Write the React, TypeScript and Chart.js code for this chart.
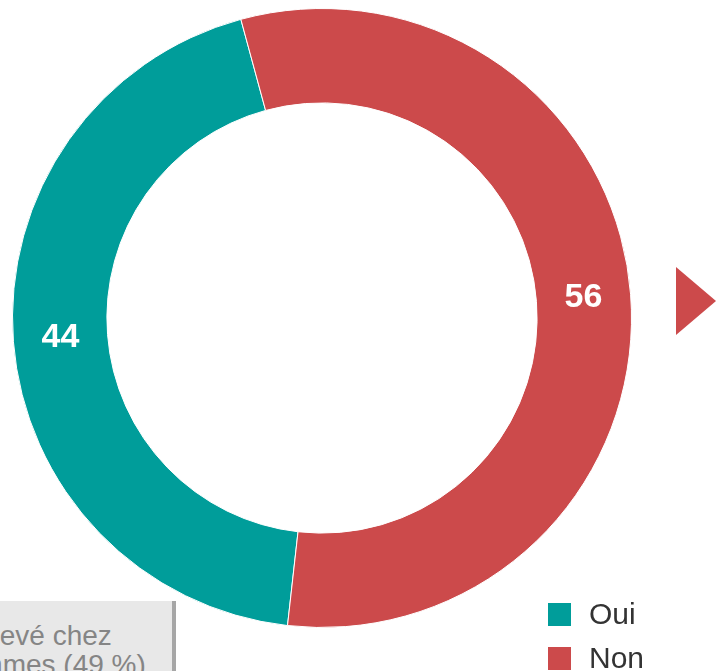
import React, { useEffect, useRef } from "react";
import { Chart, registerables } from "chart.js";

Chart.register(...registerables);

const categories = ["Oui", "Non"];
const values = [44, 56];
const colors = ["#009d9a", "#cc4a4b"];
const noteLines = ["élevé chez", "femmes (49 %)"];

const labelPlugin = {
  id: "arcLabels",
  afterDatasetsDraw(chart: any) {
    const ctx = chart.ctx;
    const meta = chart.getDatasetMeta(0);
    ctx.save();
    ctx.fillStyle = "#ffffff";
    ctx.font = "bold 34px 'Liberation Sans', Arial, sans-serif";
    ctx.textAlign = "center";
    ctx.textBaseline = "middle";
    meta.data.forEach((arc: any, i: number) => {
      const p = arc.getCenterPoint();
      ctx.fillText(String(values[i]), p.x, p.y);
    });
    ctx.restore();
  },
};

export default function App() {
  const ref = useRef<HTMLCanvasElement>(null);
  useEffect(() => {
    if (!ref.current) return;
    const chart = new Chart(ref.current, {
      type: "doughnut",
      data: {
        labels: categories,
        datasets: [
          {
            data: values,
            backgroundColor: colors,
            borderColor: "#ffffff",
            borderWidth: 1,
          },
        ],
      },
      options: {
        animation: false,
        responsive: false,
        cutout: "69.5%",
        rotation: 186.4,
        layout: { padding: { left: 12, top: 8, right: 84, bottom: 43 } },
        plugins: { legend: { display: false }, tooltip: { enabled: false } },
      },
      plugins: [labelPlugin],
    });
    return () => chart.destroy();
  }, []);

  const font = "'Liberation Sans', Arial, sans-serif";
  return (
    <div
      style={{
        position: "absolute",
        left: 0,
        top: 0,
        width: 716,
        height: 671,
        overflow: "hidden",
        background: "#ffffff",
        fontFamily: font,
      }}
    >
      <canvas
        ref={ref}
        width={716}
        height={671}
        style={{ position: "absolute", left: 0, top: 0, width: 716, height: 671 }}
      />
      <div
        style={{
          position: "absolute",
          left: 676,
          top: 267,
          width: 0,
          height: 0,
          borderLeft: "40px solid #cc4a4b",
          borderTop: "34px solid transparent",
          borderBottom: "34px solid transparent",
        }}
      />
      <div
        style={{
          position: "absolute",
          left: -100,
          top: 601,
          width: 272,
          height: 100,
          background: "#e8e8e8",
          borderRight: "4px solid #a6a6a6",
        }}
      />
      <div
        style={{
          position: "absolute",
          left: -22,
          top: 621,
          fontSize: 28,
          lineHeight: "30px",
          color: "#858585",
          whiteSpace: "nowrap",
        }}
      >
        {noteLines[0]}
      </div>
      <div
        style={{
          position: "absolute",
          left: -44,
          top: 650,
          fontSize: 28,
          lineHeight: "30px",
          color: "#858585",
          whiteSpace: "nowrap",
        }}
      >
        {noteLines[1]}
      </div>
      {categories.map((c, i) => (
        <div key={c}>
          <div
            style={{
              position: "absolute",
              left: 548,
              top: 603 + i * 44,
              width: 23,
              height: 23,
              background: colors[i],
            }}
          />
          <div
            style={{
              position: "absolute",
              left: 589,
              top: 597 + i * 44,
              fontSize: 30,
              lineHeight: "34px",
              color: "#333333",
              whiteSpace: "nowrap",
            }}
          >
            {c}
          </div>
        </div>
      ))}
    </div>
  );
}
